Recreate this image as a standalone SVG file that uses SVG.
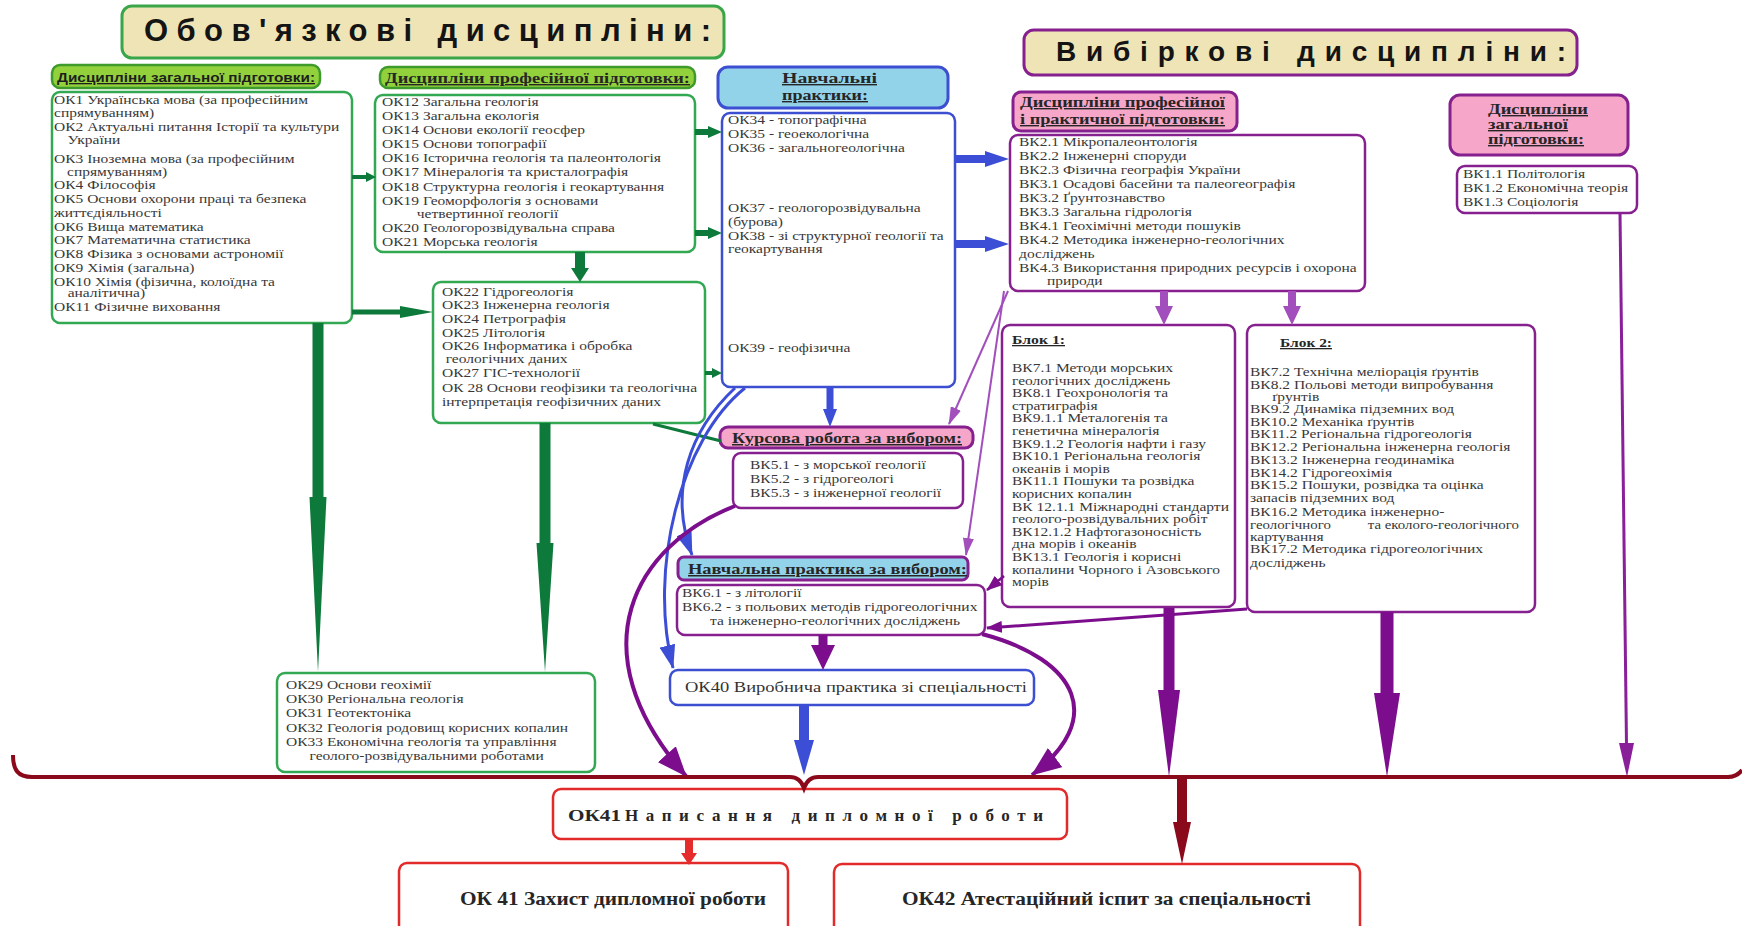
<svg xmlns="http://www.w3.org/2000/svg" width="1742" height="926" viewBox="0 0 1742 926">
<style>
.t{font-family:"Liberation Serif","Times New Roman",serif;font-size:12.5px;fill:#383838}
.h{font-family:"Liberation Serif","Times New Roman",serif;font-weight:bold;text-decoration:underline;fill:#262626}
.hs{font-family:"Liberation Sans",Arial,sans-serif;font-weight:bold;text-decoration:underline;fill:#1e1e1e}
.ti{font-family:"Liberation Sans",Arial,sans-serif;font-weight:bold;fill:#141414}
.bt{font-family:"Liberation Serif","Times New Roman",serif;font-weight:bold;fill:#262626}
.nt{font-family:"Liberation Serif","Times New Roman",serif;fill:#333}
.gb{fill:#fff;stroke:#33a852;stroke-width:2.5}
.bb{fill:#fff;stroke:#3d4fd1;stroke-width:2.5}
.pb{fill:#fff;stroke:#86208e;stroke-width:2.5}
.rb{fill:#fff;stroke:#e22a2a;stroke-width:2.5}
.ttl{fill:#efe4b5;stroke-width:3}
.gl{fill:#92d13c;stroke:#3f9a2c;stroke-width:2.5}
.pk{fill:#f6a6c8;stroke:#86208e;stroke-width:3}
.lb{fill:#93d3ea;stroke-width:3}
.ag{fill:#0d7a3b}
.ab{fill:#3c4ed6}
.ap{fill:#7c0e8e}
.al{fill:#a24fbd}
.ad{fill:#8a0a1c}
.ar{fill:#e52b2b}
</style>
<defs>
<marker id="mB" viewBox="0 0 24 16" refX="23" refY="8" markerWidth="24" markerHeight="16" markerUnits="userSpaceOnUse" orient="auto"><path d="M0,0 L24,8 L0,16 z" fill="#3c4ed6"/></marker>
<marker id="mP" viewBox="0 0 30 24" refX="29" refY="12" markerWidth="30" markerHeight="24" markerUnits="userSpaceOnUse" orient="auto"><path d="M0,0 L30,12 L0,24 z" fill="#7c0e8e"/></marker>
<marker id="mPs" viewBox="0 0 16 12" refX="15" refY="6" markerWidth="16" markerHeight="12" markerUnits="userSpaceOnUse" orient="auto"><path d="M0,0 L16,6 L0,12 z" fill="#7c0e8e"/></marker>
<marker id="mL" viewBox="0 0 18 11" refX="17" refY="5.5" markerWidth="18" markerHeight="11" markerUnits="userSpaceOnUse" orient="auto"><path d="M0,0 L18,5.5 L0,11 z" fill="#a24fbd"/></marker>
</defs>
<rect width="1742" height="926" fill="#fff"/>

<g id="title-obov">
<rect class="ttl" x="122" y="6" width="602" height="52" rx="10" stroke="#3aa64a"/>
<text class="ti" x="144" y="41" font-size="31" textLength="567" lengthAdjust="spacing">Обов'язкові дисципліни:</text>
</g>
<g id="title-vybir">
<rect class="ttl" x="1024" y="30" width="553" height="45" rx="10" stroke="#86208e"/>
<text class="ti" x="1056" y="61" font-size="28" textLength="510" lengthAdjust="spacing">Вибіркові дисципліни:</text>
</g>

<g id="lbl-zag">
<rect class="gl" x="52" y="65" width="268" height="23" rx="8"/>
<text class="hs" x="57" y="82" font-size="13" textLength="258" lengthAdjust="spacingAndGlyphs">Дисципліни загальної підготовки:</text>
</g>
<g id="lbl-prof">
<rect class="gl" x="380" y="67" width="315" height="21" rx="8"/>
<text class="h" x="385" y="83" font-size="14" textLength="305" lengthAdjust="spacingAndGlyphs">Дисципліни професійної підготовки:</text>
</g>

<g id="ok1">
<rect class="gb" x="52" y="92" width="300" height="231" rx="8"/>
<text class="t" transform="translate(54 0) scale(1.24 1)">
<tspan x="0" y="104">ОК1 Українська мова (за професійним</tspan>
<tspan x="0" y="117">спрямуванням)</tspan>
<tspan x="0" y="131">ОК2 Актуальні питання Історії та  культури</tspan>
<tspan x="11" y="144">України</tspan>
<tspan x="0" y="163">ОК3 Іноземна мова (за професійним</tspan>
<tspan x="10.5" y="176">спрямуванням)</tspan>
<tspan x="0" y="189">ОК4 Філософія</tspan>
<tspan x="0" y="203">ОК5 Основи охорони праці та безпека</tspan>
<tspan x="0" y="217">життєдіяльності</tspan>
<tspan x="0" y="231">ОК6 Вища математика</tspan>
<tspan x="0" y="244">ОК7 Математична статистика</tspan>
<tspan x="0" y="258">ОК8 Фізика з основами астрономії</tspan>
<tspan x="0" y="272">ОК9 Хімія (загальна)</tspan>
<tspan x="0" y="286">ОК10 Хімія (фізична, колоїдна та</tspan>
<tspan x="11" y="297">аналітична)</tspan>
<tspan x="0" y="311">ОК11 Фізичне виховання</tspan>
</text>
</g>

<g id="ok12">
<rect class="gb" x="375" y="95" width="320" height="157" rx="8"/>
<text class="t" transform="translate(382 0) scale(1.24 1)">
<tspan x="0" y="106">ОК12 Загальна геологія</tspan>
<tspan x="0" y="120">ОК13 Загальна екологія</tspan>
<tspan x="0" y="134">ОК14 Основи екології геосфер</tspan>
<tspan x="0" y="148">ОК15 Основи топографії</tspan>
<tspan x="0" y="162">ОК16 Історична геологія та палеонтологія</tspan>
<tspan x="0" y="176">ОК17 Мінералогія та кристалографія</tspan>
<tspan x="0" y="191">ОК18 Структурна геологія і геокартування</tspan>
<tspan x="0" y="205">ОК19 Геоморфологія з основами</tspan>
<tspan x="28" y="218">четвертинної  геології</tspan>
<tspan x="0" y="232">ОК20 Геологорозвідувальна справа</tspan>
<tspan x="0" y="246">ОК21 Морська геологія</tspan>
</text>
</g>

<g id="ok22">
<rect class="gb" x="433" y="282" width="272" height="141" rx="8"/>
<text class="t" transform="translate(442 0) scale(1.24 1)">
<tspan x="0" y="296">ОК22 Гідрогеологія</tspan>
<tspan x="0" y="309">ОК23 Інженерна геологія</tspan>
<tspan x="0" y="323">ОК24 Петрографія</tspan>
<tspan x="0" y="337">ОК25 Літологія</tspan>
<tspan x="0" y="350">ОК26 Інформатика і обробка</tspan>
<tspan x="3" y="363">геологічних даних</tspan>
<tspan x="0" y="377">ОК27 ГІС-технології</tspan>
<tspan x="0" y="392">ОК 28 Основи  геофізики та геологічна</tspan>
<tspan x="0" y="406">інтерпретація геофізичних даних</tspan>
</text>
</g>

<g id="ok29">
<rect class="gb" x="277" y="673" width="318" height="99" rx="8"/>
<text class="t" transform="translate(286 0) scale(1.24 1)">
<tspan x="0" y="689">ОК29 Основи геохімії</tspan>
<tspan x="0" y="703">ОК30 Регіональна геологія</tspan>
<tspan x="0" y="717">ОК31 Геотектоніка</tspan>
<tspan x="0" y="732">ОК32 Геологія родовищ корисних копалин</tspan>
<tspan x="0" y="746">ОК33 Економічна геологія та управління</tspan>
<tspan x="19" y="760">геолого-розвідувальними роботами</tspan>
</text>
</g>

<g id="navch-head">
<rect class="lb" x="718" y="67" width="230" height="41" rx="10" stroke="#3d4fd1"/>
<text class="h" x="782" y="83" font-size="14" textLength="95" lengthAdjust="spacingAndGlyphs">Навчальні</text>
<text class="h" x="782" y="100" font-size="14" textLength="86" lengthAdjust="spacingAndGlyphs">практики:</text>
</g>
<g id="navch">
<rect class="bb" x="722" y="113" width="233" height="274" rx="8"/>
<text class="t" transform="translate(728 0) scale(1.24 1)">
<tspan x="0" y="124">ОК34 - топографічна</tspan>
<tspan x="0" y="138">ОК35 - геоекологічна</tspan>
<tspan x="0" y="152">ОК36 - загальногеологічна</tspan>
<tspan x="0" y="212">ОК37 - геологорозвідувальна</tspan>
<tspan x="0" y="226">(бурова)</tspan>
<tspan x="0" y="240">ОК38 - зі структурної геології та</tspan>
<tspan x="0" y="253">геокартування</tspan>
<tspan x="0" y="352">ОК39 - геофізична</tspan>
</text>
</g>

<g id="kurs-head">
<rect class="pk" x="720" y="427" width="253" height="21" rx="8"/>
<text class="h" x="732" y="443" font-size="15" textLength="230" lengthAdjust="spacingAndGlyphs">Курсова робота за вибором:</text>
</g>
<g id="kurs">
<rect class="pb" x="733" y="453" width="230" height="55" rx="8"/>
<text class="t" transform="translate(750 0) scale(1.24 1)">
<tspan x="0" y="469">ВК5.1 - з морської геології</tspan>
<tspan x="0" y="483">ВК5.2 - з гідрогеологі</tspan>
<tspan x="0" y="497">ВК5.3 - з інженерної геології</tspan>
</text>
</g>

<g id="vk6-head">
<rect class="lb" x="678" y="557" width="290" height="23" rx="6" stroke="#86208e"/>
<text class="h" x="688" y="574" font-size="15" textLength="279" lengthAdjust="spacingAndGlyphs">Навчальна практика за вибором:</text>
</g>
<g id="vk6">
<rect class="pb" x="677" y="585" width="308" height="50" rx="8"/>
<text class="t" transform="translate(682 0) scale(1.24 1)">
<tspan x="0" y="597">ВК6.1 - з літології</tspan>
<tspan x="0" y="611">ВК6.2 - з польових методів гідрогеологічних</tspan>
<tspan x="22.6" y="625">та інженерно-геологічних досліджень</tspan>
</text>
</g>

<g id="ok40">
<rect class="bb" x="670" y="670" width="364" height="35" rx="8"/>
<text class="nt" x="685" y="692" font-size="15" textLength="342" lengthAdjust="spacingAndGlyphs">ОК40 Виробнича практика зі спеціальності</text>
</g>

<g id="vk2-head">
<rect class="pk" x="1013" y="92" width="224" height="39" rx="8"/>
<text class="h" x="1020" y="107" font-size="14" textLength="205" lengthAdjust="spacingAndGlyphs">Дисципліни професійної</text>
<text class="h" x="1020" y="124" font-size="14" textLength="205" lengthAdjust="spacingAndGlyphs">і практичної підготовки:</text>
</g>
<g id="vk2">
<rect class="pb" x="1010" y="135" width="355" height="156" rx="8"/>
<text class="t" transform="translate(1019 0) scale(1.24 1)">
<tspan x="0" y="146">ВК2.1 Мікропалеонтологія</tspan>
<tspan x="0" y="160">ВК2.2 Інженерні споруди</tspan>
<tspan x="0" y="174">ВК2.3 Фізична географія України</tspan>
<tspan x="0" y="188">ВК3.1 Осадові басейни та палеогеографія</tspan>
<tspan x="0" y="202">ВК3.2 Ґрунтознавство</tspan>
<tspan x="0" y="216">ВК3.3 Загальна гідрологія</tspan>
<tspan x="0" y="230">ВК4.1 Геохімічні методи пошуків</tspan>
<tspan x="0" y="244">ВК4.2 Методика інженерно-геологічних</tspan>
<tspan x="0" y="258">досліджень</tspan>
<tspan x="0" y="272">ВК4.3 Використання природних ресурсів і охорона</tspan>
<tspan x="22.6" y="285">природи</tspan>
</text>
</g>

<g id="vk1-head">
<rect class="pk" x="1450" y="95" width="178" height="60" rx="10"/>
<text class="h" x="1488" y="114" font-size="14" textLength="100" lengthAdjust="spacingAndGlyphs">Дисципліни</text>
<text class="h" x="1488" y="129" font-size="14" textLength="80" lengthAdjust="spacingAndGlyphs">загальної</text>
<text class="h" x="1488" y="144" font-size="14" textLength="96" lengthAdjust="spacingAndGlyphs">підготовки:</text>
</g>
<g id="vk1">
<rect class="pb" x="1457" y="166" width="180" height="47" rx="8"/>
<text class="t" transform="translate(1463 0) scale(1.24 1)">
<tspan x="0" y="178">ВК1.1 Політологія</tspan>
<tspan x="0" y="192">ВК1.2 Економічна теорія</tspan>
<tspan x="0" y="206">ВК1.3 Соціологія</tspan>
</text>
</g>

<g id="blok1">
<rect class="pb" x="1002" y="325" width="233" height="282" rx="8"/>
<text class="h" x="1012" y="344" font-size="13" textLength="53" lengthAdjust="spacingAndGlyphs">Блок 1:</text>
<text class="t" transform="translate(1012 0) scale(1.24 1)">
<tspan x="0" y="372">ВК7.1 Методи морських</tspan>
<tspan x="0" y="384.6">геологічних досліджень</tspan>
<tspan x="0" y="397.2">ВК8.1 Геохронологія та</tspan>
<tspan x="0" y="409.8">стратиграфія</tspan>
<tspan x="0" y="422.4">ВК9.1.1 Металогенія та</tspan>
<tspan x="0" y="435">генетична мінералогія</tspan>
<tspan x="0" y="447.6">ВК9.1.2 Геологія нафти і газу</tspan>
<tspan x="0" y="460.2">ВК10.1 Регіональна геологія</tspan>
<tspan x="0" y="472.8">океанів і морів</tspan>
<tspan x="0" y="485.4">ВК11.1 Пошуки та розвідка</tspan>
<tspan x="0" y="498">корисних копалин</tspan>
<tspan x="0" y="510.6">ВК 12.1.1 Міжнародні стандарти</tspan>
<tspan x="0" y="523.2">геолого-розвідувальних робіт</tspan>
<tspan x="0" y="535.8">ВК12.1.2 Нафтогазоносність</tspan>
<tspan x="0" y="548.4">дна морів і океанів</tspan>
<tspan x="0" y="561">ВК13.1 Геологія і корисні</tspan>
<tspan x="0" y="573.6">копалини Чорного і Азовського</tspan>
<tspan x="0" y="586.2">морів</tspan>
</text>
</g>

<g id="blok2">
<rect class="pb" x="1247" y="325" width="288" height="287" rx="8"/>
<text class="h" x="1280" y="347" font-size="13" textLength="52" lengthAdjust="spacingAndGlyphs">Блок 2:</text>
<text class="t" transform="translate(1250 0) scale(1.24 1)">
<tspan x="0" y="376">ВК7.2 Технічна меліорація ґрунтів</tspan>
<tspan x="0" y="389">ВК8.2 Польові методи випробування</tspan>
<tspan x="17.7" y="401">ґрунтів</tspan>
<tspan x="0" y="413">ВК9.2 Динаміка підземних вод</tspan>
<tspan x="0" y="426">ВК10.2 Механіка ґрунтів</tspan>
<tspan x="0" y="438">ВК11.2 Регіональна гідрогеологія</tspan>
<tspan x="0" y="451">ВК12.2 Регіональна інженерна геологія</tspan>
<tspan x="0" y="464">ВК13.2 Інженерна геодинаміка</tspan>
<tspan x="0" y="477">ВК14.2 Гідрогеохімія</tspan>
<tspan x="0" y="489">ВК15.2 Пошуки, розвідка та оцінка</tspan>
<tspan x="0" y="502">запасів підземних вод</tspan>
<tspan x="0" y="516">ВК16.2 Методика  інженерно-</tspan>
<tspan x="0" y="529" font-size="12">геологічного</tspan>
<tspan x="95" y="529" font-size="12">та еколого-геологічного</tspan>
<tspan x="0" y="541">картування</tspan>
<tspan x="0" y="553">ВК17.2 Методика гідрогеологічних</tspan>
<tspan x="0" y="567">досліджень</tspan>
</text>
</g>

<g id="ok41-write">
<rect class="rb" x="553" y="789" width="514" height="50" rx="8"/>
<text class="bt" x="568" y="821" font-size="17" textLength="53" lengthAdjust="spacingAndGlyphs">ОК41</text>
<text class="bt" x="625" y="821" font-size="17" textLength="418" lengthAdjust="spacing">Написання дипломної роботи</text>
</g>
<g id="ok41-def">
<rect class="rb" x="399" y="863" width="389" height="80" rx="8"/>
<text class="bt" x="460" y="905" font-size="18" textLength="306" lengthAdjust="spacingAndGlyphs">ОК 41 Захист дипломної роботи</text>
</g>
<g id="ok42">
<rect class="rb" x="834" y="864" width="526" height="80" rx="8"/>
<text class="bt" x="902" y="905" font-size="18" textLength="409" lengthAdjust="spacingAndGlyphs">ОК42 Атестаційний іспит за спеціальності</text>
</g>

<g id="connectors">
<polygon class="ag" points="352,175 366,175 366,172 376,177 366,182 366,179 352,179"/>
<polygon class="ag" points="352,309.5 400,309.5 400,306 433,312 400,318 400,314.5 352,314.5"/>
<polygon class="ag" points="695,129 708,129 708,126 722,132 708,138 708,135 695,135"/>
<polygon class="ag" points="695,230 708,230 708,227 722,233 708,239 708,236 695,236"/>
<polygon class="ag" points="705,371 712,371 712,368 722,373 712,378 712,375 705,375"/>
<polygon class="ag" points="575,252 585,252 585,268 589,268 580,282 571,268 575,268"/>
<polygon class="ag" points="312.5,323 323.5,323 323.5,497 326.5,497 318,672 309.5,497 312.5,497"/>
<polygon class="ag" points="539.5,423 550.5,423 550.5,543 553.5,543 545,672 536.5,543 539.5,543"/>
<line x1="653" y1="424" x2="721" y2="441" stroke="#0d7a3b" stroke-width="3"/>

<polygon class="ab" points="955,155 985,155 985,151 1009,159 985,167 985,163 955,163"/>
<polygon class="ab" points="955,240 985,240 985,236 1009,244 985,252 985,248 955,248"/>
<polygon class="ab" points="826.5,387 833.5,387 833.5,409 837,409 830,427 823,409 826.5,409"/>
<polygon class="ab" points="799,705 809,705 809,740 814,740 804,775 794,740 799,740"/>
<path d="M735,388 C690,430 668,490 692,555" fill="none" stroke="#3c4ed6" stroke-width="3" marker-end="url(#mB)"/>
<path d="M745,388 C680,440 648,570 673,668" fill="none" stroke="#3c4ed6" stroke-width="3" marker-end="url(#mB)"/>

<polygon class="al" points="1160,291 1168,291 1168,306 1173,306 1164,325 1155,306 1160,306"/>
<polygon class="al" points="1288,291 1296,291 1296,306 1301,306 1292,325 1283,306 1288,306"/>
<line x1="1008" y1="291" x2="949" y2="424" stroke="#a24fbd" stroke-width="2" marker-end="url(#mL)"/>
<line x1="1004" y1="291" x2="966" y2="555" stroke="#a24fbd" stroke-width="2" marker-end="url(#mL)"/>

<polygon class="ap" points="818.5,635 827.5,635 827.5,645 835,645 823,670 811,645 818.5,645"/>
<polygon class="ap" points="1163.5,608 1174.5,608 1174.5,690 1180,690 1169,777 1158,690 1163.5,690"/>
<polygon class="ap" points="1380.5,612 1393.5,612 1393.5,693 1400,693 1387,777 1374,693 1380.5,693"/>
<path d="M735,506 C635,545 575,650 686,776" fill="none" stroke="#7c0e8e" stroke-width="4" marker-end="url(#mP)"/>
<path d="M982,634 C1080,660 1105,720 1032,775" fill="none" stroke="#7c0e8e" stroke-width="4" marker-end="url(#mP)"/>
<line x1="1247" y1="609" x2="987" y2="628" stroke="#7c0e8e" stroke-width="3" marker-end="url(#mPs)"/>
<line x1="1004" y1="576" x2="987" y2="590" stroke="#7c0e8e" stroke-width="2.5" marker-end="url(#mPs)"/>
<line x1="1620" y1="213" x2="1626.5" y2="745" stroke="#8a1f9a" stroke-width="3"/>
<polygon points="1619,743 1634,743 1627,777" fill="#8a1f9a"/>

<path d="M13,755 C13,770 18,777 32,777 L790,777 Q800,777 804,788 Q808,777 818,777 L1728,777 Q1737,777 1742,770" fill="none" stroke="#8a0a1c" stroke-width="4"/>
<polygon class="ad" points="1177,777 1187,777 1187,822 1191,822 1182,864 1173,822 1177,822"/>
<polygon class="ar" points="685,839 693,839 693,853 697,853 689,865 681,853 685,853"/>
</g>
</svg>
